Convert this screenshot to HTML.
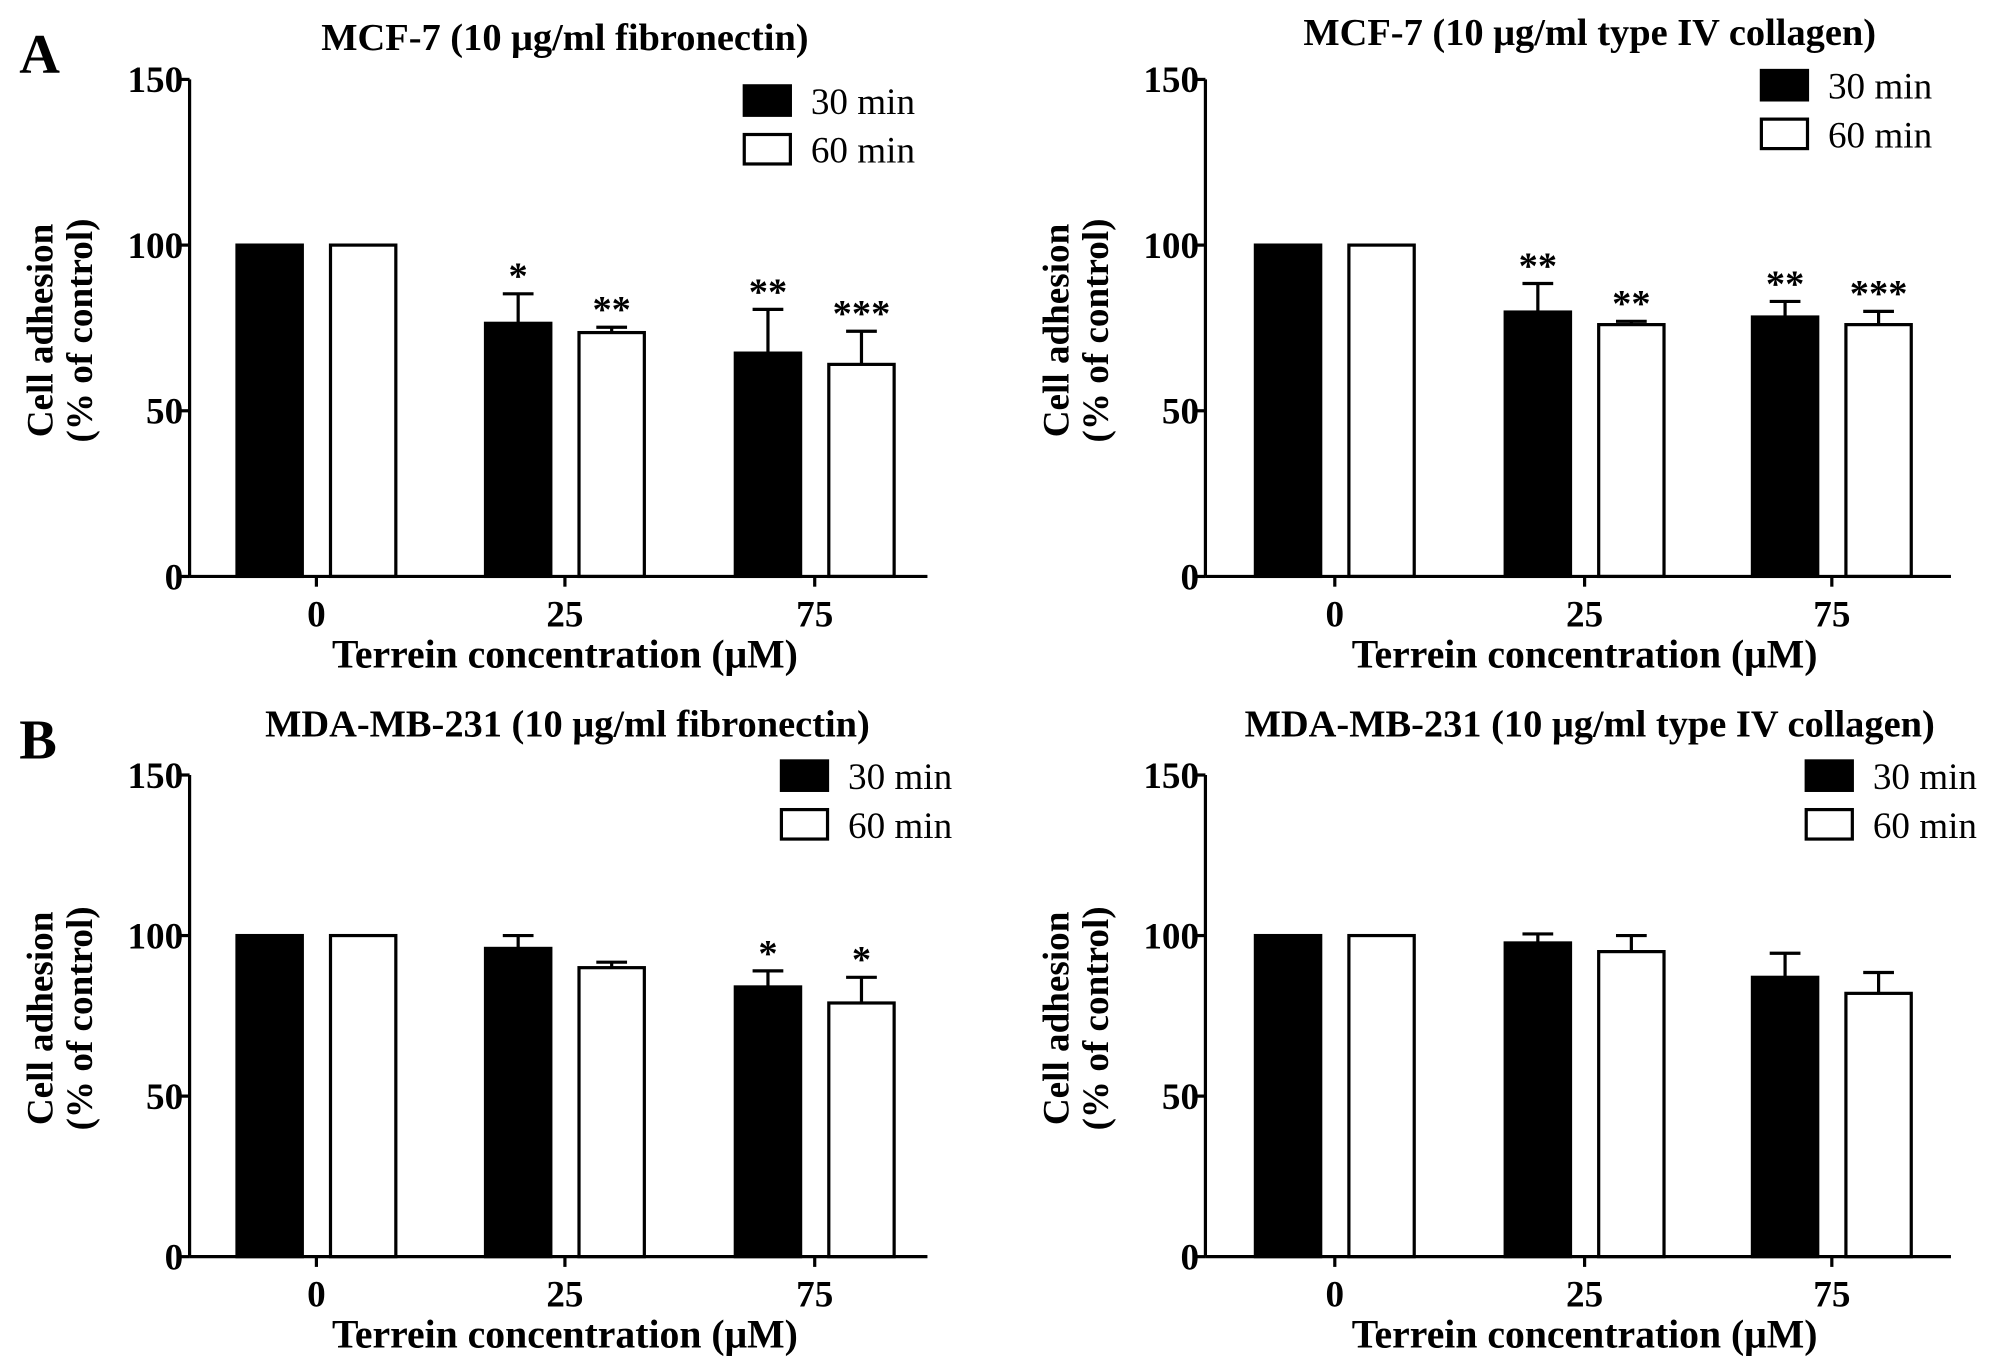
<!DOCTYPE html>
<html><head><meta charset="utf-8"><style>
html,body{margin:0;padding:0;background:#fff;}
svg{display:block;}
text{font-family:"Liberation Serif",serif;fill:#000;}
</style></head><body>
<svg id="fig" width="2008" height="1362" viewBox="0 0 2008 1362" xmlns="http://www.w3.org/2000/svg">
<g id="root" transform="scale(1.281)"></g>
</svg>
<script>
const categories = ["0","25","75"];
const yTicks = [0,50,100,150];
const seriesNames = ["30 min","60 min"];
const aL30 = [100,76.4,67.4], aL30err = [0,85.3,80.6], aL60 = [100,73.6,64], aL60err = [0,75.2,74];
const aL30sig = ["","*","**"], aL60sig = ["","**","***"];
const aR30 = [100,79.8,78.3], aR30err = [0,88.4,83], aR60 = [100,76,76], aR60err = [0,77,80];
const aR30sig = ["","**","**"], aR60sig = ["","**","***"];
const bL30 = [100,96,84], bL30err = [0,100,89], bL60 = [100,90,79], bL60err = [0,91.7,87];
const bL30sig = ["","","*"], bL60sig = ["","","*"];
const bR30 = [100,97.7,87], bR30err = [0,100.5,94.5], bR60 = [100,95,82], bR60err = [0,100,88.5];
const bR30sig = ["","",""], bR60sig = ["","",""];

const NS="http://www.w3.org/2000/svg";
const root=document.getElementById('root');
function el(tag,attrs,parent,txt){const e=document.createElementNS(NS,tag);for(const k in attrs)e.setAttribute(k,attrs[k]);if(txt!==undefined)e.textContent=txt;(parent||root).appendChild(e);return e;}

const panels=[
 {id:"a-left",ax:148,top:62,bot:450,xend:724,ticks:[247,441,636],title:"MCF-7 (10 \u03bcg/ml fibronectin)",tx:441,ty:39,lx:581,ly:67,s30:aL30,e30:aL30err,s60:aL60,e60:aL60err,g30:aL30sig,g60:aL60sig},
 {id:"a-right",ax:941,top:62,bot:450,xend:1523,ticks:[1042,1237,1430],title:"MCF-7 (10 \u03bcg/ml type IV collagen)",tx:1241,ty:35,lx:1375,ly:55,s30:aR30,e30:aR30err,s60:aR60,e60:aR60err,g30:aR30sig,g60:aR60sig},
 {id:"b-left",ax:148,top:605,bot:981,xend:724,ticks:[247,441,636],title:"MDA-MB-231 (10 \u03bcg/ml fibronectin)",tx:443,ty:575,lx:610,ly:594,s30:bL30,e30:bL30err,s60:bL60,e60:bL60err,g30:bL30sig,g60:bL60sig},
 {id:"b-right",ax:941,top:605,bot:981,xend:1523,ticks:[1042,1237,1430],title:"MDA-MB-231  (10 \u03bcg/ml type IV collagen)",tx:1241,ty:575,lx:1410,ly:594,s30:bR30,e30:bR30err,s60:bR60,e60:bR60err,g30:bR30sig,g60:bR60sig}
];

let t;
t=el('text',{x:15,y:57,'font-size':44,'font-weight':'bold'},root,"A");


t=el('text',{x:15,y:592,'font-size':44,'font-weight':'bold'},root,"B");



panels.forEach(p=>{
  const g=el('g',{});
  
  
  const y=v=>p.bot-(v/150)*(p.bot-p.top);
  const bw=51, off=36.5;
  t=el('text',{x:p.tx,y:p.ty,'font-size':30,'font-weight':'bold','text-anchor':'middle'},g,p.title);
  
  
  categories.forEach((c,i)=>{
    const cx=p.ticks[i];
    [[p.s30,p.e30,p.g30,'#000',-off,'bar-30min'],[p.s60,p.e60,p.g60,'#fff',off,'bar-60min']].forEach(([s,e,sig,fill,o,nm])=>{
      const bx=cx+o;
      if(e[i]>s[i]){
        const l=el('line',{x1:bx,x2:bx,y1:y(s[i]),y2:y(e[i]),stroke:'#000','stroke-width':2.5},g);
        
        
        const cap=el('line',{x1:bx-12,x2:bx+12,y1:y(e[i]),y2:y(e[i]),stroke:'#000','stroke-width':2.5},g);
        
        
      }
      const r=el('rect',{x:bx-bw/2,y:y(s[i]),width:bw,height:y(0)-y(s[i]),fill:fill,stroke:'#000','stroke-width':2.5},g);
      
      
      if(sig[i]){
        const st=el('text',{x:bx,y:y(Math.max(e[i],s[i]))-4,'font-size':30,'font-weight':'bold','text-anchor':'middle','font-family':'Liberation Sans, sans-serif'},g,sig[i]);
        
        
      }
    });
    const tk=el('line',{x1:cx,x2:cx,y1:p.bot,y2:p.bot+8,stroke:'#000','stroke-width':2.5},g);
    
    
    const tl=el('text',{x:cx,y:p.bot+39,'font-size':29,'font-weight':'bold','text-anchor':'middle'},g,c);
    
    
  });
  const ya=el('line',{x1:p.ax,x2:p.ax,y1:p.top,y2:p.bot,stroke:'#000','stroke-width':2.5},g);
  
  
  const xa=el('line',{x1:p.ax,x2:p.xend,y1:p.bot,y2:p.bot,stroke:'#000','stroke-width':2.5},g);
  
  
  yTicks.forEach(v=>{
    const l=el('line',{x1:p.ax-8,x2:p.ax,y1:y(v),y2:y(v),stroke:'#000','stroke-width':2.5},g);
    
    
    const tx=el('text',{x:p.ax-5,y:y(v)+10,'font-size':29,'font-weight':'bold','text-anchor':'end'},g,String(v));
    
    
  });
  const midY=(p.top+p.bot)/2+2, lx=p.ax-107;
  const yl=el('text',{'font-size':29,'font-weight':'bold','text-anchor':'middle','font-family':'Liberation Sans, sans-serif',transform:`translate(${lx},${midY}) rotate(-90)`},g,"Cell adhesion");
  
  
  const yl2=el('text',{'font-size':29,'font-weight':'bold','text-anchor':'middle','font-family':'Liberation Sans, sans-serif',transform:`translate(${lx+31},${midY}) rotate(-90)`},g,"(% of control)");
  
  
  const xt=el('text',{x:(p.ticks[1]),y:p.bot+71,'font-size':31,'font-weight':'bold','text-anchor':'middle'},g,"Terrein concentration (\u03bcM)");
  
  
  seriesNames.forEach((n,k)=>{
    const ly=p.ly+k*38;
    const r=el('rect',{x:p.lx,y:ly,width:36,height:23,fill:k?'#fff':'#000',stroke:'#000','stroke-width':2.5},g);
    
    
    const lt=el('text',{x:p.lx+52,y:ly+22,'font-size':29},g,n);
    
    
  });
});
</script>
</body></html>
